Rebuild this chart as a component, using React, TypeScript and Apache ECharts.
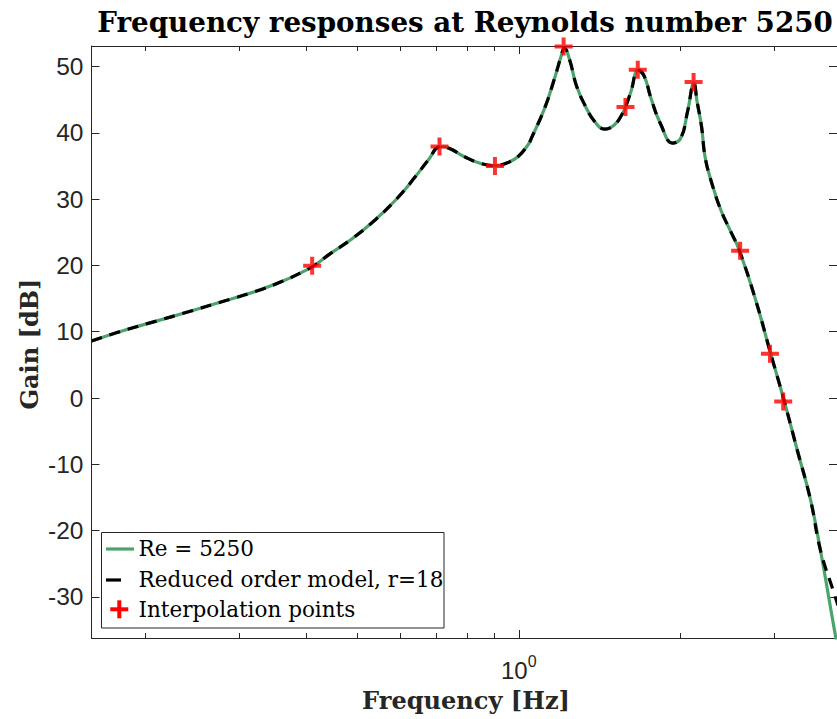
import React, { useEffect, useRef } from "react";
import * as echarts from "echarts";

// ---- data ----
const freqHz = [
  0.159, 0.182, 0.2101, 0.2423, 0.2795, 0.3226, 0.3614, 0.3938, 0.4141, 0.4417,
  0.4881, 0.5395, 0.5917, 0.6405, 0.678, 0.7129, 0.7389, 0.7937, 0.852, 0.9026,
  0.9556, 0.9975, 1.041, 1.056, 1.118, 1.167, 1.201, 1.216, 1.245, 1.28,
  1.328, 1.386, 1.447, 1.51, 1.565, 1.583, 1.621, 1.672, 1.717, 1.766,
  1.844, 1.939, 2.009, 2.068, 2.125, 2.154, 2.196, 2.229, 2.285, 2.385,
  2.489, 2.581, 2.771, 2.955, 3.13, 3.314, 3.509, 3.662, 3.879, 3.951,
];
const gainRe = [
  8.6, 10.15, 11.6, 13.05, 14.55, 16.1, 17.6, 19.0, 19.95, 21.63,
  24.03, 26.9, 30.06, 33.36, 35.93, 37.9, 37.7, 36.35, 35.34, 35.05,
  35.54, 36.44, 38.2, 39.2, 43.74, 48.27, 51.67, 52.8, 51.0, 47.26,
  44.24, 41.72, 40.57, 41.22, 42.99, 43.89, 46.24, 49.45, 48.5, 45.25,
  41.22, 38.46, 39.22, 43.23, 47.5, 44.74, 40.97, 36.44, 32.93, 28.4,
  25.13, 22.37, 14.83, 6.79, -0.26, -7.8, -15.3, -22.9, -34.4, -38.0,
];
const gainRom = [
  8.6, 10.15, 11.6, 13.05, 14.55, 16.1, 17.6, 19.0, 19.95, 21.63,
  24.03, 26.9, 30.06, 33.36, 35.93, 37.9, 37.7, 36.35, 35.34, 35.05,
  35.54, 36.44, 38.2, 39.2, 43.74, 48.27, 51.67, 52.8, 51.0, 47.26,
  44.24, 41.72, 40.57, 41.22, 42.99, 43.89, 46.24, 49.45, 48.5, 45.25,
  41.22, 38.46, 39.22, 43.23, 47.5, 44.74, 40.97, 36.44, 32.93, 28.4,
  25.13, 22.37, 14.83, 6.79, -0.26, -7.8, -15.3, -22.9, -29.3, -31.3,
];
const interpFreq = [0.411, 0.711, 0.9026, 1.213, 1.583, 1.669, 2.122, 2.593, 2.948, 3.121];
const interpGain = [19.95, 37.95, 34.99, 53.03, 43.89, 49.52, 47.66, 22.22, 6.68, -0.51];

const yTicks = [-30, -20, -10, 0, 10, 20, 30, 40, 50];
const xMajorTicks = [1];
const xMinorTicks = [0.2, 0.3, 0.4, 0.5, 0.6, 0.7, 0.8, 0.9, 2, 3];

const titleText = "Frequency responses at Reynolds number 5250";
const xName = "Frequency [Hz]";
const yName = "Gain [dB]";
const legendNames = ["Re = 5250", "Reduced order model, r=18", "Interpolation points"];

const X_MIN = 0.159;
const X_MAX = 3.934;
const Y_MIN = -36.2;
const Y_MAX = 53.1;

const GREEN = "rgb(77,163,108)";
const AXIS = "#262626";
const SERIF = "'DejaVu Serif', 'Liberation Serif', serif";
const SANS = "'Liberation Sans', Arial, Helvetica, sans-serif";
const PLUS = "path://M7,0H11V7H18V11H11V18H7V11H0V7H7Z";

function fitSize(text: string, weight: string, family: string, target: number): number {
  const c = document.createElement("canvas");
  const ctx = c.getContext("2d");
  if (!ctx) return 24;
  ctx.font = `${weight} 100px ${family}`;
  const w = ctx.measureText(text).width;
  return (100 * target) / w;
}

export default function App() {
  const ref = useRef<HTMLDivElement>(null);

  useEffect(() => {
    if (!ref.current) return;
    const chart = echarts.init(ref.current, undefined, { renderer: "svg" });

    const titleSize = fitSize(titleText, "bold", SERIF, 736);
    const xNameSize = fitSize(xName, "bold", SERIF, 208);
    const yNameSize = xNameSize;
    const legSize = fitSize(legendNames[1], "normal", SERIF, 305);

    const reData = freqHz.map((f, i) => [f, gainRe[i]]);
    const romData = freqHz.map((f, i) => [f, gainRom[i]]);
    const ipData = interpFreq.map((f, i) => [f, interpGain[i]]);

    const tickLine = { color: AXIS, width: 1 };
    const baseX = {
      type: "log" as const,
      logBase: 10,
      min: X_MIN,
      max: X_MAX,
      splitLine: { show: false },
      minorTick: { show: false },
    };

    const option: any = {
      animation: false,
      backgroundColor: "#ffffff",
      grid: { left: 91.5, right: -3, top: 46, bottom: 81, containLabel: false },
      xAxis: [
        {
          ...baseX,
          position: "bottom",
          axisLine: { show: true, onZero: false, lineStyle: { color: AXIS, width: 1 } },
          axisTick: { show: true, inside: true, length: 8, customValues: xMajorTicks, lineStyle: tickLine },
          axisLabel: {
            show: true,
            customValues: xMajorTicks,
            margin: 15,
            formatter: () => "{b|10}{s|0}",
            rich: {
              b: { fontSize: 24, lineHeight: 34, color: AXIS, fontFamily: SANS },
              s: { fontSize: 16, lineHeight: 18, color: AXIS, fontFamily: SANS, verticalAlign: "top" },
            },
          },
        },
        {
          ...baseX,
          position: "bottom",
          axisLine: { show: false, onZero: false },
          axisTick: { show: true, inside: true, length: 5, customValues: xMinorTicks, lineStyle: tickLine },
          axisLabel: { show: false },
        },
        {
          ...baseX,
          position: "top",
          axisLine: { show: true, onZero: false, lineStyle: { color: AXIS, width: 1 } },
          axisTick: { show: true, inside: true, length: 8, customValues: xMajorTicks, lineStyle: tickLine },
          axisLabel: { show: false },
        },
        {
          ...baseX,
          position: "top",
          axisLine: { show: false, onZero: false },
          axisTick: { show: true, inside: true, length: 5, customValues: xMinorTicks, lineStyle: tickLine },
          axisLabel: { show: false },
        },
      ],
      yAxis: [
        {
          type: "value",
          min: Y_MIN,
          max: Y_MAX,
          position: "left",
          splitLine: { show: false },
          axisLine: { show: true, onZero: false, lineStyle: { color: AXIS, width: 1 } },
          axisTick: { show: true, inside: true, length: 8, customValues: yTicks, lineStyle: tickLine },
          axisLabel: {
            show: true,
            customValues: yTicks,
            margin: 8,
            fontSize: 24.5,
            color: AXIS,
            fontFamily: SANS,
          },
        },
        {
          type: "value",
          min: Y_MIN,
          max: Y_MAX,
          position: "right",
          splitLine: { show: false },
          axisLine: { show: true, onZero: false, lineStyle: { color: AXIS, width: 1 } },
          axisTick: { show: true, inside: true, length: 8, customValues: yTicks, lineStyle: tickLine },
          axisLabel: { show: false },
        },
      ],
      series: [
        {
          name: legendNames[0],
          type: "line",
          xAxisIndex: 0,
          yAxisIndex: 0,
          data: reData,
          showSymbol: false,
          symbol: "none",
          smooth: 0.45,
          clip: true,
          lineStyle: { color: GREEN, width: 3.2 },
          z: 2,
        },
        {
          name: legendNames[1],
          type: "line",
          xAxisIndex: 0,
          yAxisIndex: 0,
          data: romData,
          showSymbol: false,
          symbol: "none",
          smooth: 0.45,
          clip: true,
          lineStyle: { color: "#000000", width: 3.2, type: [11, 8] },
          z: 3,
        },
        {
          name: legendNames[2],
          type: "scatter",
          xAxisIndex: 0,
          yAxisIndex: 0,
          data: ipData,
          symbol: PLUS,
          symbolSize: 18,
          clip: false,
          itemStyle: { color: "#ff0000" },
          z: 4,
        },
      ],
      graphic: [
        {
          type: "text",
          x: 465,
          y: 22,
          style: {
            text: titleText,
            fontFamily: SERIF,
            fontWeight: "bold",
            fontSize: titleSize,
            fill: "#000000",
            align: "center",
            verticalAlign: "middle",
          },
        },
        {
          type: "text",
          x: 466,
          y: 700,
          style: {
            text: xName,
            fontFamily: SERIF,
            fontWeight: "bold",
            fontSize: xNameSize,
            fill: AXIS,
            align: "center",
            verticalAlign: "middle",
          },
        },
        {
          type: "text",
          x: 29,
          y: 344,
          rotation: Math.PI / 2,
          style: {
            text: yName,
            fontFamily: SERIF,
            fontWeight: "bold",
            fontSize: yNameSize,
            fill: AXIS,
            align: "center",
            verticalAlign: "middle",
          },
        },
        {
          type: "group",
          z: 100,
          children: [
            {
              type: "rect",
              shape: { x: 101.5, y: 532.5, width: 342.5, height: 95.5 },
              style: { fill: "#ffffff", stroke: AXIS, lineWidth: 1 },
            },
            {
              type: "line",
              shape: { x1: 106, y1: 549, x2: 134, y2: 549 },
              style: { stroke: GREEN, lineWidth: 3.2 },
            },
            {
              type: "line",
              shape: { x1: 106, y1: 580, x2: 121, y2: 580 },
              style: { stroke: "#000000", lineWidth: 3.2 },
            },
            {
              type: "rect",
              shape: { x: 110.3, y: 607.3, width: 18, height: 4 },
              style: { fill: "#ff0000" },
            },
            {
              type: "rect",
              shape: { x: 117.3, y: 600.3, width: 4, height: 18 },
              style: { fill: "#ff0000" },
            },
            ...legendNames.map((t, i) => ({
              type: "text",
              x: 138.5,
              y: [548, 579, 609][i],
              style: {
                text: t,
                fontFamily: SERIF,
                fontSize: legSize,
                fill: "#000000",
                align: "left",
                verticalAlign: "middle",
              },
            })),
          ],
        },
      ],
    };

    chart.setOption(option);
    return () => chart.dispose();
  }, []);

  return (
    <div
      ref={ref}
      style={{ position: "absolute", left: 0, top: 0, width: 837, height: 719, background: "#fff" }}
    />
  );
}
